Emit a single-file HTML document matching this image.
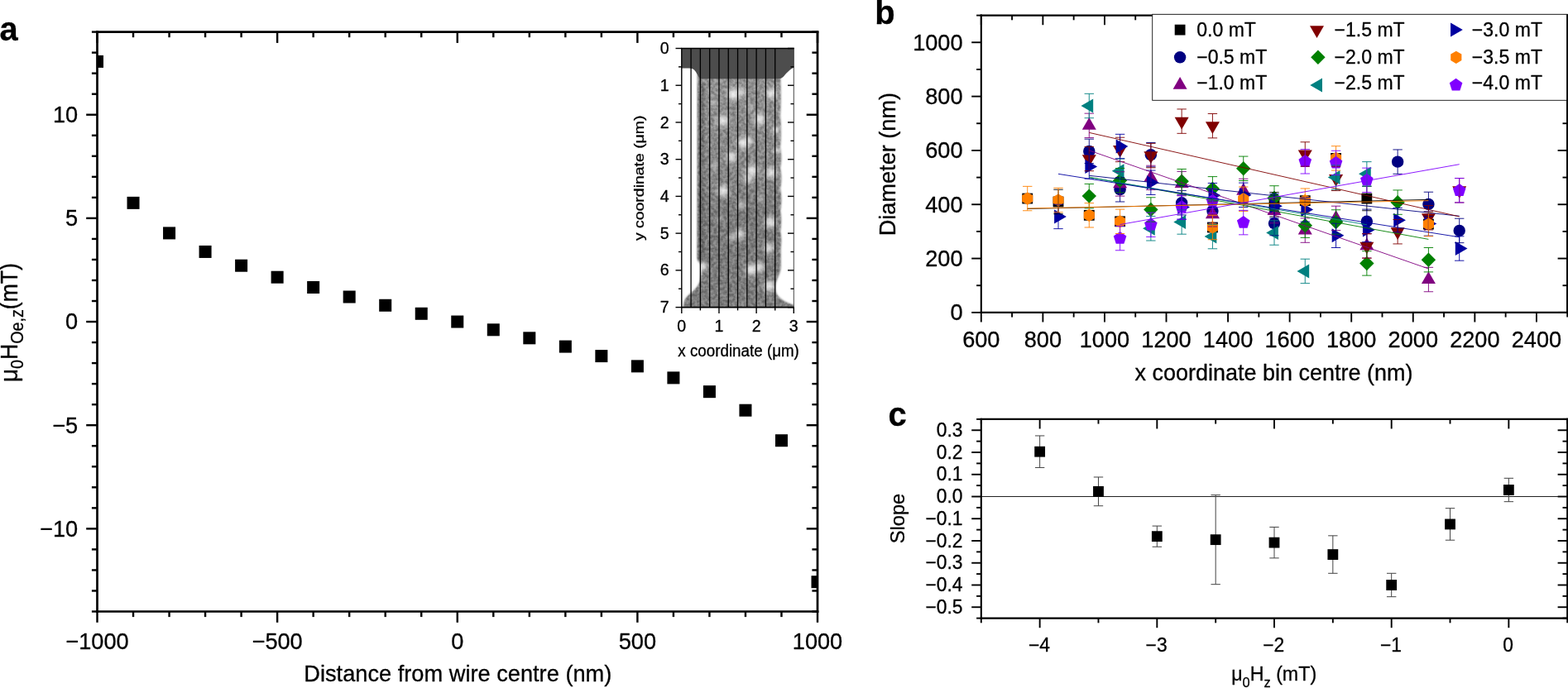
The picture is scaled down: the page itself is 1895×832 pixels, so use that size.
<!DOCTYPE html>
<html lang="en">
<head>
<meta charset="utf-8">
<title>Figure</title>
<style>
html,body{margin:0;padding:0;background:#fff;}
body{width:1895px;height:832px;overflow:hidden;}
svg{display:block;}
svg text{font-family:'Liberation Sans', sans-serif;fill:#000;stroke:#000;stroke-width:0.3px;stroke-linejoin:round;}
</style>
</head>
<body>
<svg width="1895" height="832" viewBox="0 0 1895 832">
<rect width="1895" height="832" fill="#fff"/>
<g id="panel-a">
<clipPath id="clipA"><rect x="117.5" y="38.6" width="870.5" height="700.9"/></clipPath>
<g clip-path="url(#clipA)" fill="#000">
<rect x="110.00" y="66.90" width="15.0" height="15.0"/>
<rect x="153.53" y="237.87" width="15.0" height="15.0"/>
<rect x="197.05" y="274.41" width="15.0" height="15.0"/>
<rect x="240.57" y="296.94" width="15.0" height="15.0"/>
<rect x="284.10" y="313.71" width="15.0" height="15.0"/>
<rect x="327.62" y="327.73" width="15.0" height="15.0"/>
<rect x="371.15" y="340.00" width="15.0" height="15.0"/>
<rect x="414.67" y="351.51" width="15.0" height="15.0"/>
<rect x="458.20" y="361.77" width="15.0" height="15.0"/>
<rect x="501.73" y="371.79" width="15.0" height="15.0"/>
<rect x="545.25" y="381.55" width="15.0" height="15.0"/>
<rect x="588.78" y="391.31" width="15.0" height="15.0"/>
<rect x="632.30" y="401.33" width="15.0" height="15.0"/>
<rect x="675.83" y="411.59" width="15.0" height="15.0"/>
<rect x="719.35" y="423.10" width="15.0" height="15.0"/>
<rect x="762.88" y="435.37" width="15.0" height="15.0"/>
<rect x="806.40" y="449.39" width="15.0" height="15.0"/>
<rect x="849.92" y="466.16" width="15.0" height="15.0"/>
<rect x="893.45" y="488.69" width="15.0" height="15.0"/>
<rect x="936.97" y="525.23" width="15.0" height="15.0"/>
<rect x="980.50" y="696.20" width="15.0" height="15.0"/>
</g>
<line x1="117.50" y1="37.25" x2="117.50" y2="740.85" stroke="#000" stroke-width="2.7" />
<line x1="988.00" y1="37.25" x2="988.00" y2="740.85" stroke="#000" stroke-width="2.7" />
<line x1="116.15" y1="38.60" x2="989.35" y2="38.60" stroke="#000" stroke-width="2.7" />
<line x1="116.15" y1="739.50" x2="989.35" y2="739.50" stroke="#000" stroke-width="2.7" />
<line x1="117.50" y1="739.50" x2="117.50" y2="752.80" stroke="#000" stroke-width="2.4" />
<line x1="117.50" y1="38.60" x2="117.50" y2="51.90" stroke="#000" stroke-width="2.4" />
<line x1="161.03" y1="739.50" x2="161.03" y2="746.10" stroke="#000" stroke-width="2.4" />
<line x1="161.03" y1="38.60" x2="161.03" y2="45.20" stroke="#000" stroke-width="2.4" />
<line x1="204.55" y1="739.50" x2="204.55" y2="746.10" stroke="#000" stroke-width="2.4" />
<line x1="204.55" y1="38.60" x2="204.55" y2="45.20" stroke="#000" stroke-width="2.4" />
<line x1="248.07" y1="739.50" x2="248.07" y2="746.10" stroke="#000" stroke-width="2.4" />
<line x1="248.07" y1="38.60" x2="248.07" y2="45.20" stroke="#000" stroke-width="2.4" />
<line x1="291.60" y1="739.50" x2="291.60" y2="746.10" stroke="#000" stroke-width="2.4" />
<line x1="291.60" y1="38.60" x2="291.60" y2="45.20" stroke="#000" stroke-width="2.4" />
<line x1="335.12" y1="739.50" x2="335.12" y2="752.80" stroke="#000" stroke-width="2.4" />
<line x1="335.12" y1="38.60" x2="335.12" y2="51.90" stroke="#000" stroke-width="2.4" />
<line x1="378.65" y1="739.50" x2="378.65" y2="746.10" stroke="#000" stroke-width="2.4" />
<line x1="378.65" y1="38.60" x2="378.65" y2="45.20" stroke="#000" stroke-width="2.4" />
<line x1="422.17" y1="739.50" x2="422.17" y2="746.10" stroke="#000" stroke-width="2.4" />
<line x1="422.17" y1="38.60" x2="422.17" y2="45.20" stroke="#000" stroke-width="2.4" />
<line x1="465.70" y1="739.50" x2="465.70" y2="746.10" stroke="#000" stroke-width="2.4" />
<line x1="465.70" y1="38.60" x2="465.70" y2="45.20" stroke="#000" stroke-width="2.4" />
<line x1="509.23" y1="739.50" x2="509.23" y2="746.10" stroke="#000" stroke-width="2.4" />
<line x1="509.23" y1="38.60" x2="509.23" y2="45.20" stroke="#000" stroke-width="2.4" />
<line x1="552.75" y1="739.50" x2="552.75" y2="752.80" stroke="#000" stroke-width="2.4" />
<line x1="552.75" y1="38.60" x2="552.75" y2="51.90" stroke="#000" stroke-width="2.4" />
<line x1="596.28" y1="739.50" x2="596.28" y2="746.10" stroke="#000" stroke-width="2.4" />
<line x1="596.28" y1="38.60" x2="596.28" y2="45.20" stroke="#000" stroke-width="2.4" />
<line x1="639.80" y1="739.50" x2="639.80" y2="746.10" stroke="#000" stroke-width="2.4" />
<line x1="639.80" y1="38.60" x2="639.80" y2="45.20" stroke="#000" stroke-width="2.4" />
<line x1="683.33" y1="739.50" x2="683.33" y2="746.10" stroke="#000" stroke-width="2.4" />
<line x1="683.33" y1="38.60" x2="683.33" y2="45.20" stroke="#000" stroke-width="2.4" />
<line x1="726.85" y1="739.50" x2="726.85" y2="746.10" stroke="#000" stroke-width="2.4" />
<line x1="726.85" y1="38.60" x2="726.85" y2="45.20" stroke="#000" stroke-width="2.4" />
<line x1="770.38" y1="739.50" x2="770.38" y2="752.80" stroke="#000" stroke-width="2.4" />
<line x1="770.38" y1="38.60" x2="770.38" y2="51.90" stroke="#000" stroke-width="2.4" />
<line x1="813.90" y1="739.50" x2="813.90" y2="746.10" stroke="#000" stroke-width="2.4" />
<line x1="813.90" y1="38.60" x2="813.90" y2="45.20" stroke="#000" stroke-width="2.4" />
<line x1="857.42" y1="739.50" x2="857.42" y2="746.10" stroke="#000" stroke-width="2.4" />
<line x1="857.42" y1="38.60" x2="857.42" y2="45.20" stroke="#000" stroke-width="2.4" />
<line x1="900.95" y1="739.50" x2="900.95" y2="746.10" stroke="#000" stroke-width="2.4" />
<line x1="900.95" y1="38.60" x2="900.95" y2="45.20" stroke="#000" stroke-width="2.4" />
<line x1="944.47" y1="739.50" x2="944.47" y2="746.10" stroke="#000" stroke-width="2.4" />
<line x1="944.47" y1="38.60" x2="944.47" y2="45.20" stroke="#000" stroke-width="2.4" />
<line x1="988.00" y1="739.50" x2="988.00" y2="752.80" stroke="#000" stroke-width="2.4" />
<line x1="988.00" y1="38.60" x2="988.00" y2="51.90" stroke="#000" stroke-width="2.4" />
<line x1="117.50" y1="739.50" x2="110.90" y2="739.50" stroke="#000" stroke-width="2.4" />
<line x1="988.00" y1="739.50" x2="981.40" y2="739.50" stroke="#000" stroke-width="2.4" />
<line x1="117.50" y1="714.47" x2="110.90" y2="714.47" stroke="#000" stroke-width="2.4" />
<line x1="988.00" y1="714.47" x2="981.40" y2="714.47" stroke="#000" stroke-width="2.4" />
<line x1="117.50" y1="689.44" x2="110.90" y2="689.44" stroke="#000" stroke-width="2.4" />
<line x1="988.00" y1="689.44" x2="981.40" y2="689.44" stroke="#000" stroke-width="2.4" />
<line x1="117.50" y1="664.40" x2="110.90" y2="664.40" stroke="#000" stroke-width="2.4" />
<line x1="988.00" y1="664.40" x2="981.40" y2="664.40" stroke="#000" stroke-width="2.4" />
<line x1="117.50" y1="639.37" x2="104.20" y2="639.37" stroke="#000" stroke-width="2.4" />
<line x1="988.00" y1="639.37" x2="974.70" y2="639.37" stroke="#000" stroke-width="2.4" />
<line x1="117.50" y1="614.34" x2="110.90" y2="614.34" stroke="#000" stroke-width="2.4" />
<line x1="988.00" y1="614.34" x2="981.40" y2="614.34" stroke="#000" stroke-width="2.4" />
<line x1="117.50" y1="589.31" x2="110.90" y2="589.31" stroke="#000" stroke-width="2.4" />
<line x1="988.00" y1="589.31" x2="981.40" y2="589.31" stroke="#000" stroke-width="2.4" />
<line x1="117.50" y1="564.27" x2="110.90" y2="564.27" stroke="#000" stroke-width="2.4" />
<line x1="988.00" y1="564.27" x2="981.40" y2="564.27" stroke="#000" stroke-width="2.4" />
<line x1="117.50" y1="539.24" x2="110.90" y2="539.24" stroke="#000" stroke-width="2.4" />
<line x1="988.00" y1="539.24" x2="981.40" y2="539.24" stroke="#000" stroke-width="2.4" />
<line x1="117.50" y1="514.21" x2="104.20" y2="514.21" stroke="#000" stroke-width="2.4" />
<line x1="988.00" y1="514.21" x2="974.70" y2="514.21" stroke="#000" stroke-width="2.4" />
<line x1="117.50" y1="489.18" x2="110.90" y2="489.18" stroke="#000" stroke-width="2.4" />
<line x1="988.00" y1="489.18" x2="981.40" y2="489.18" stroke="#000" stroke-width="2.4" />
<line x1="117.50" y1="464.15" x2="110.90" y2="464.15" stroke="#000" stroke-width="2.4" />
<line x1="988.00" y1="464.15" x2="981.40" y2="464.15" stroke="#000" stroke-width="2.4" />
<line x1="117.50" y1="439.11" x2="110.90" y2="439.11" stroke="#000" stroke-width="2.4" />
<line x1="988.00" y1="439.11" x2="981.40" y2="439.11" stroke="#000" stroke-width="2.4" />
<line x1="117.50" y1="414.08" x2="110.90" y2="414.08" stroke="#000" stroke-width="2.4" />
<line x1="988.00" y1="414.08" x2="981.40" y2="414.08" stroke="#000" stroke-width="2.4" />
<line x1="117.50" y1="389.05" x2="104.20" y2="389.05" stroke="#000" stroke-width="2.4" />
<line x1="988.00" y1="389.05" x2="974.70" y2="389.05" stroke="#000" stroke-width="2.4" />
<line x1="117.50" y1="364.02" x2="110.90" y2="364.02" stroke="#000" stroke-width="2.4" />
<line x1="988.00" y1="364.02" x2="981.40" y2="364.02" stroke="#000" stroke-width="2.4" />
<line x1="117.50" y1="338.99" x2="110.90" y2="338.99" stroke="#000" stroke-width="2.4" />
<line x1="988.00" y1="338.99" x2="981.40" y2="338.99" stroke="#000" stroke-width="2.4" />
<line x1="117.50" y1="313.95" x2="110.90" y2="313.95" stroke="#000" stroke-width="2.4" />
<line x1="988.00" y1="313.95" x2="981.40" y2="313.95" stroke="#000" stroke-width="2.4" />
<line x1="117.50" y1="288.92" x2="110.90" y2="288.92" stroke="#000" stroke-width="2.4" />
<line x1="988.00" y1="288.92" x2="981.40" y2="288.92" stroke="#000" stroke-width="2.4" />
<line x1="117.50" y1="263.89" x2="104.20" y2="263.89" stroke="#000" stroke-width="2.4" />
<line x1="988.00" y1="263.89" x2="974.70" y2="263.89" stroke="#000" stroke-width="2.4" />
<line x1="117.50" y1="238.86" x2="110.90" y2="238.86" stroke="#000" stroke-width="2.4" />
<line x1="988.00" y1="238.86" x2="981.40" y2="238.86" stroke="#000" stroke-width="2.4" />
<line x1="117.50" y1="213.83" x2="110.90" y2="213.83" stroke="#000" stroke-width="2.4" />
<line x1="988.00" y1="213.83" x2="981.40" y2="213.83" stroke="#000" stroke-width="2.4" />
<line x1="117.50" y1="188.79" x2="110.90" y2="188.79" stroke="#000" stroke-width="2.4" />
<line x1="988.00" y1="188.79" x2="981.40" y2="188.79" stroke="#000" stroke-width="2.4" />
<line x1="117.50" y1="163.76" x2="110.90" y2="163.76" stroke="#000" stroke-width="2.4" />
<line x1="988.00" y1="163.76" x2="981.40" y2="163.76" stroke="#000" stroke-width="2.4" />
<line x1="117.50" y1="138.73" x2="104.20" y2="138.73" stroke="#000" stroke-width="2.4" />
<line x1="988.00" y1="138.73" x2="974.70" y2="138.73" stroke="#000" stroke-width="2.4" />
<line x1="117.50" y1="113.70" x2="110.90" y2="113.70" stroke="#000" stroke-width="2.4" />
<line x1="988.00" y1="113.70" x2="981.40" y2="113.70" stroke="#000" stroke-width="2.4" />
<line x1="117.50" y1="88.66" x2="110.90" y2="88.66" stroke="#000" stroke-width="2.4" />
<line x1="988.00" y1="88.66" x2="981.40" y2="88.66" stroke="#000" stroke-width="2.4" />
<line x1="117.50" y1="63.63" x2="110.90" y2="63.63" stroke="#000" stroke-width="2.4" />
<line x1="988.00" y1="63.63" x2="981.40" y2="63.63" stroke="#000" stroke-width="2.4" />
<line x1="117.50" y1="38.60" x2="110.90" y2="38.60" stroke="#000" stroke-width="2.4" />
<line x1="988.00" y1="38.60" x2="981.40" y2="38.60" stroke="#000" stroke-width="2.4" />
<text transform="translate(117.50 784.60) scale(0.9850 1)" font-size="27.60" text-anchor="middle" >−1000</text>
<text transform="translate(335.12 784.60) scale(0.9850 1)" font-size="27.60" text-anchor="middle" >−500</text>
<text transform="translate(552.75 784.60) scale(0.9850 1)" font-size="27.60" text-anchor="middle" >0</text>
<text transform="translate(770.38 784.60) scale(0.9850 1)" font-size="27.60" text-anchor="middle" >500</text>
<text transform="translate(988.00 784.60) scale(0.9850 1)" font-size="27.60" text-anchor="middle" >1000</text>
<text transform="translate(94.20 648.67) scale(0.9850 1)" font-size="27.60" text-anchor="end" >−10</text>
<text transform="translate(94.20 523.51) scale(0.9850 1)" font-size="27.60" text-anchor="end" >−5</text>
<text transform="translate(94.20 398.35) scale(0.9850 1)" font-size="27.60" text-anchor="end" >0</text>
<text transform="translate(94.20 273.19) scale(0.9850 1)" font-size="27.60" text-anchor="end" >5</text>
<text transform="translate(94.20 148.03) scale(0.9850 1)" font-size="27.60" text-anchor="end" >10</text>
<text transform="translate(553.30 823.80) scale(0.9850 1)" font-size="27.60" text-anchor="middle" textLength="377.66" lengthAdjust="spacingAndGlyphs" >Distance from wire centre (nm)</text>
<text transform="translate(20.6 462.3) rotate(-90) scale(0.927 1)" font-size="28.7" text-anchor="start"><tspan textLength="17.6" lengthAdjust="spacingAndGlyphs">μ</tspan><tspan font-size="21.3" dy="7.5">0</tspan><tspan dy="-7.5">H</tspan><tspan font-size="21.3" dy="7.5">Oe,z</tspan><tspan dy="-7.5">(mT)</tspan></text>
<text transform="translate(-0.50 49.20) scale(0.9850 1)" font-size="40.50" text-anchor="start" font-weight="bold" >a</text>
</g>
<g id="inset">
<defs>
<filter id="noise" x="0" y="0" width="100%" height="100%" color-interpolation-filters="sRGB">
<feTurbulence type="fractalNoise" baseFrequency="0.27" numOctaves="2" seed="7" result="n"/>
<feColorMatrix in="n" type="matrix" values="2.2 0 0 0 -0.6  2.2 0 0 0 -0.6  2.2 0 0 0 -0.6  0 0 0 0 1"/>
<feComposite operator="in" in2="SourceGraphic"/>
</filter>
<filter id="blur3" x="-100%" y="-100%" width="300%" height="300%"><feGaussianBlur stdDeviation="3.0"/></filter>
<filter id="blur1" x="-10%" y="-10%" width="120%" height="120%"><feGaussianBlur stdDeviation="1.1"/></filter>
<radialGradient id="sp"><stop offset="0" stop-color="#fff" stop-opacity="0.9"/><stop offset="0.3" stop-color="#fff" stop-opacity="0.68"/><stop offset="0.6" stop-color="#fff" stop-opacity="0.28"/><stop offset="1" stop-color="#fff" stop-opacity="0"/></radialGradient>
<linearGradient id="wg" x1="0" y1="0" x2="0" y2="1">
<stop offset="0" stop-color="#969696"/><stop offset="0.45" stop-color="#8a8a8a"/><stop offset="0.6" stop-color="#7b7b7b"/><stop offset="1" stop-color="#7e7e7e"/>
</linearGradient>
</defs>
<clipPath id="clipI"><rect x="823.8" y="58.5" width="135.5" height="313.1"/></clipPath>
<g clip-path="url(#clipI)">
<path d="M 842.7 88 L 842.7 200 L 842.5 312 C 843 317 848 319 848 324 C 848 330 847 336 845.5 341 C 844 346 840 350 836 353.5 C 832 357 828.5 360 827 364 L 825.5 373 L 961 373 L 961 369.5 C 956 368 950 366 946 363 C 942 360 938.5 357 937.5 352 C 936.8 347 937.5 341 939.5 337 C 941.5 332 943.5 328 943.7 322 L 943.5 300 C 944.5 295 944.5 285 943 280 C 944.5 270 944.5 262 943 255 C 945 245 944.5 235 943 228 C 945 220 944.5 210 943 203 C 945 195 944.5 185 943 178 C 944.5 165 944 150 943 140 C 944 125 944 110 943 88 Z" fill="url(#wg)" filter="url(#blur1)"/>
<rect x="843.5" y="100" width="8" height="215" fill="#484848" opacity="0.42" filter="url(#blur1)"/>
<path d="M 842.7 88 L 842.7 200 L 842.5 312 C 843 317 848 319 848 324 C 848 330 847 336 845.5 341 C 844 346 840 350 836 353.5 C 832 357 828.5 360 827 364 L 825.5 373 L 961 373 L 961 369.5 C 956 368 950 366 946 363 C 942 360 938.5 357 937.5 352 C 936.8 347 937.5 341 939.5 337 C 941.5 332 943.5 328 943.7 322 L 943.5 300 C 944.5 295 944.5 285 943 280 C 944.5 270 944.5 262 943 255 C 945 245 944.5 235 943 228 C 945 220 944.5 210 943 203 C 945 195 944.5 185 943 178 C 944.5 165 944 150 943 140 C 944 125 944 110 943 88 Z" fill="#fff" opacity="0.18" filter="url(#noise)"/>
<circle cx="886" cy="114" r="12.0" fill="url(#sp)" opacity="0.95"/>
<circle cx="895" cy="111" r="10.0" fill="url(#sp)" opacity="0.60"/>
<circle cx="932" cy="113" r="11.0" fill="url(#sp)" opacity="0.85"/>
<circle cx="874" cy="146" r="12.0" fill="url(#sp)" opacity="0.85"/>
<circle cx="918" cy="144" r="12.0" fill="url(#sp)" opacity="0.85"/>
<circle cx="898" cy="173" r="12.0" fill="url(#sp)" opacity="0.90"/>
<circle cx="906" cy="170" r="8.0" fill="url(#sp)" opacity="0.60"/>
<circle cx="884" cy="190" r="11.0" fill="url(#sp)" opacity="0.85"/>
<circle cx="909" cy="206" r="12.0" fill="url(#sp)" opacity="0.90"/>
<circle cx="904" cy="216" r="10.0" fill="url(#sp)" opacity="0.70"/>
<circle cx="932" cy="209" r="11.0" fill="url(#sp)" opacity="0.85"/>
<circle cx="874" cy="231" r="12.0" fill="url(#sp)" opacity="0.90"/>
<circle cx="938" cy="157" r="8.0" fill="url(#sp)" opacity="0.70"/>
<circle cx="939" cy="182" r="8.0" fill="url(#sp)" opacity="0.60"/>
<circle cx="896" cy="248" r="9.0" fill="url(#sp)" opacity="0.50"/>
<circle cx="931" cy="269" r="12.0" fill="url(#sp)" opacity="0.90"/>
<circle cx="894" cy="283" r="11.0" fill="url(#sp)" opacity="0.75"/>
<circle cx="884" cy="288" r="8.0" fill="url(#sp)" opacity="0.45"/>
<circle cx="929" cy="300" r="11.0" fill="url(#sp)" opacity="0.80"/>
<circle cx="908" cy="326" r="12.0" fill="url(#sp)" opacity="0.95"/>
<circle cx="918" cy="323" r="10.0" fill="url(#sp)" opacity="0.80"/>
<circle cx="930" cy="346" r="12.0" fill="url(#sp)" opacity="0.90"/>
<circle cx="862" cy="125" r="8.0" fill="url(#sp)" opacity="0.35"/>
<circle cx="864" cy="200" r="8.0" fill="url(#sp)" opacity="0.35"/>
<circle cx="920" cy="240" r="8.0" fill="url(#sp)" opacity="0.35"/>
<circle cx="870" cy="265" r="8.0" fill="url(#sp)" opacity="0.30"/>
<circle cx="905" cy="130" r="8.0" fill="url(#sp)" opacity="0.30"/>
<circle cx="850" cy="322" r="9.0" fill="url(#sp)" opacity="0.80"/>
<path d="M 823 58 L 960 58 L 960 81.5 C 955 83 951 88 947 92.5 C 945 94.5 943 95.3 940 95.3 L 850 95.3 C 846 96 845 94.7 843 90.5 C 840 84.5 838 82.5 833 82.4 L 823 82.4 Z" fill="#4d4d4d"/>
</g>
<line x1="835.09" y1="58.50" x2="835.09" y2="371.60" stroke="#000" stroke-width="1.3" />
<line x1="846.38" y1="58.50" x2="846.38" y2="371.60" stroke="#000" stroke-width="1.3" />
<line x1="857.67" y1="58.50" x2="857.67" y2="371.60" stroke="#000" stroke-width="1.3" />
<line x1="868.97" y1="58.50" x2="868.97" y2="371.60" stroke="#000" stroke-width="1.3" />
<line x1="880.26" y1="58.50" x2="880.26" y2="371.60" stroke="#000" stroke-width="1.3" />
<line x1="891.55" y1="58.50" x2="891.55" y2="371.60" stroke="#000" stroke-width="1.3" />
<line x1="902.84" y1="58.50" x2="902.84" y2="371.60" stroke="#000" stroke-width="1.3" />
<line x1="914.13" y1="58.50" x2="914.13" y2="371.60" stroke="#000" stroke-width="1.3" />
<line x1="925.42" y1="58.50" x2="925.42" y2="371.60" stroke="#000" stroke-width="1.3" />
<line x1="936.72" y1="58.50" x2="936.72" y2="371.60" stroke="#000" stroke-width="1.3" />
<line x1="823.80" y1="58.50" x2="823.80" y2="371.60" stroke="#000" stroke-width="1.4" />
<line x1="823.10" y1="58.50" x2="960.00" y2="58.50" stroke="#000" stroke-width="1.6" />
<line x1="823.10" y1="371.60" x2="960.00" y2="371.60" stroke="#000" stroke-width="1.6" />
<line x1="959.30" y1="58.50" x2="959.30" y2="371.60" stroke="#333" stroke-width="0.9" />
<line x1="823.80" y1="58.50" x2="816.50" y2="58.50" stroke="#000" stroke-width="1.4" />
<line x1="959.30" y1="58.50" x2="952.00" y2="58.50" stroke="#000" stroke-width="1.4" />
<line x1="823.80" y1="80.86" x2="820.00" y2="80.86" stroke="#000" stroke-width="1.4" />
<line x1="959.30" y1="80.86" x2="955.50" y2="80.86" stroke="#000" stroke-width="1.4" />
<line x1="823.80" y1="103.23" x2="816.50" y2="103.23" stroke="#000" stroke-width="1.4" />
<line x1="959.30" y1="103.23" x2="952.00" y2="103.23" stroke="#000" stroke-width="1.4" />
<line x1="823.80" y1="125.59" x2="820.00" y2="125.59" stroke="#000" stroke-width="1.4" />
<line x1="959.30" y1="125.59" x2="955.50" y2="125.59" stroke="#000" stroke-width="1.4" />
<line x1="823.80" y1="147.96" x2="816.50" y2="147.96" stroke="#000" stroke-width="1.4" />
<line x1="959.30" y1="147.96" x2="952.00" y2="147.96" stroke="#000" stroke-width="1.4" />
<line x1="823.80" y1="170.32" x2="820.00" y2="170.32" stroke="#000" stroke-width="1.4" />
<line x1="959.30" y1="170.32" x2="955.50" y2="170.32" stroke="#000" stroke-width="1.4" />
<line x1="823.80" y1="192.69" x2="816.50" y2="192.69" stroke="#000" stroke-width="1.4" />
<line x1="959.30" y1="192.69" x2="952.00" y2="192.69" stroke="#000" stroke-width="1.4" />
<line x1="823.80" y1="215.05" x2="820.00" y2="215.05" stroke="#000" stroke-width="1.4" />
<line x1="959.30" y1="215.05" x2="955.50" y2="215.05" stroke="#000" stroke-width="1.4" />
<line x1="823.80" y1="237.41" x2="816.50" y2="237.41" stroke="#000" stroke-width="1.4" />
<line x1="959.30" y1="237.41" x2="952.00" y2="237.41" stroke="#000" stroke-width="1.4" />
<line x1="823.80" y1="259.78" x2="820.00" y2="259.78" stroke="#000" stroke-width="1.4" />
<line x1="959.30" y1="259.78" x2="955.50" y2="259.78" stroke="#000" stroke-width="1.4" />
<line x1="823.80" y1="282.14" x2="816.50" y2="282.14" stroke="#000" stroke-width="1.4" />
<line x1="959.30" y1="282.14" x2="952.00" y2="282.14" stroke="#000" stroke-width="1.4" />
<line x1="823.80" y1="304.51" x2="820.00" y2="304.51" stroke="#000" stroke-width="1.4" />
<line x1="959.30" y1="304.51" x2="955.50" y2="304.51" stroke="#000" stroke-width="1.4" />
<line x1="823.80" y1="326.87" x2="816.50" y2="326.87" stroke="#000" stroke-width="1.4" />
<line x1="959.30" y1="326.87" x2="952.00" y2="326.87" stroke="#000" stroke-width="1.4" />
<line x1="823.80" y1="349.24" x2="820.00" y2="349.24" stroke="#000" stroke-width="1.4" />
<line x1="959.30" y1="349.24" x2="955.50" y2="349.24" stroke="#000" stroke-width="1.4" />
<line x1="823.80" y1="371.60" x2="816.50" y2="371.60" stroke="#000" stroke-width="1.4" />
<line x1="959.30" y1="371.60" x2="952.00" y2="371.60" stroke="#000" stroke-width="1.4" />
<line x1="823.80" y1="371.60" x2="823.80" y2="378.90" stroke="#000" stroke-width="1.4" />
<line x1="846.38" y1="371.60" x2="846.38" y2="375.40" stroke="#000" stroke-width="1.4" />
<line x1="868.97" y1="371.60" x2="868.97" y2="378.90" stroke="#000" stroke-width="1.4" />
<line x1="891.55" y1="371.60" x2="891.55" y2="375.40" stroke="#000" stroke-width="1.4" />
<line x1="914.13" y1="371.60" x2="914.13" y2="378.90" stroke="#000" stroke-width="1.4" />
<line x1="936.72" y1="371.60" x2="936.72" y2="375.40" stroke="#000" stroke-width="1.4" />
<line x1="959.30" y1="371.60" x2="959.30" y2="378.90" stroke="#000" stroke-width="1.4" />
<text transform="translate(808.60 65.10) scale(0.9850 1)" font-size="19.90" text-anchor="end" >0</text>
<text transform="translate(808.60 109.83) scale(0.9850 1)" font-size="19.90" text-anchor="end" >1</text>
<text transform="translate(808.60 154.56) scale(0.9850 1)" font-size="19.90" text-anchor="end" >2</text>
<text transform="translate(808.60 199.29) scale(0.9850 1)" font-size="19.90" text-anchor="end" >3</text>
<text transform="translate(808.60 244.01) scale(0.9850 1)" font-size="19.90" text-anchor="end" >4</text>
<text transform="translate(808.60 288.74) scale(0.9850 1)" font-size="19.90" text-anchor="end" >5</text>
<text transform="translate(808.60 333.47) scale(0.9850 1)" font-size="19.90" text-anchor="end" >6</text>
<text transform="translate(808.60 378.20) scale(0.9850 1)" font-size="19.90" text-anchor="end" >7</text>
<text transform="translate(823.80 401.20) scale(0.9850 1)" font-size="19.90" text-anchor="middle" >0</text>
<text transform="translate(868.97 401.20) scale(0.9850 1)" font-size="19.90" text-anchor="middle" >1</text>
<text transform="translate(914.13 401.20) scale(0.9850 1)" font-size="19.90" text-anchor="middle" >2</text>
<text transform="translate(959.30 401.20) scale(0.9850 1)" font-size="19.90" text-anchor="middle" >3</text>
<text transform="translate(892.60 430.70) scale(0.9850 1)" font-size="19.90" text-anchor="middle" textLength="148.73" lengthAdjust="spacingAndGlyphs" >x coordinate (μm)</text>
<text transform="translate(778.20 215.30) rotate(-90) scale(0.9850 1)" font-size="17.00" text-anchor="middle" textLength="153.81" lengthAdjust="spacingAndGlyphs" >y coordinate (μm)</text>
</g>
<g id="panel-b">
<rect x="1235.33" y="233.66" width="12.80" height="12.80" fill="#000000"/>
<rect x="1272.61" y="237.58" width="12.80" height="12.80" fill="#000000"/>
<rect x="1309.89" y="253.91" width="12.80" height="12.80" fill="#000000"/>
<rect x="1347.18" y="261.42" width="12.80" height="12.80" fill="#000000"/>
<rect x="1459.03" y="268.61" width="12.80" height="12.80" fill="#000000"/>
<rect x="1533.60" y="240.85" width="12.80" height="12.80" fill="#000000"/>
<rect x="1570.88" y="236.27" width="12.80" height="12.80" fill="#000000"/>
<rect x="1608.17" y="184.99" width="12.80" height="12.80" fill="#000000"/>
<rect x="1645.45" y="233.66" width="12.80" height="12.80" fill="#000000"/>
<rect x="1720.02" y="264.69" width="12.80" height="12.80" fill="#000000"/>
<circle cx="1316.29" cy="182.90" r="7.20" fill="#000080"/>
<circle cx="1353.58" cy="229.28" r="7.20" fill="#000080"/>
<circle cx="1390.86" cy="187.14" r="7.20" fill="#000080"/>
<circle cx="1428.15" cy="245.29" r="7.20" fill="#000080"/>
<circle cx="1465.43" cy="255.08" r="7.20" fill="#000080"/>
<circle cx="1540.00" cy="270.11" r="7.20" fill="#000080"/>
<circle cx="1651.85" cy="267.82" r="7.20" fill="#000080"/>
<circle cx="1689.14" cy="195.64" r="7.20" fill="#000080"/>
<circle cx="1726.42" cy="246.92" r="7.20" fill="#000080"/>
<circle cx="1763.71" cy="278.93" r="7.20" fill="#000080"/>
<polygon points="1316.29,142.05 1307.79,156.77 1324.79,156.77" fill="#800080"/>
<polygon points="1353.58,212.61 1345.08,227.33 1362.08,227.33" fill="#800080"/>
<polygon points="1390.86,205.09 1382.36,219.82 1399.36,219.82" fill="#800080"/>
<polygon points="1428.15,212.28 1419.65,227.00 1436.65,227.00" fill="#800080"/>
<polygon points="1465.43,249.52 1456.93,264.24 1473.93,264.24" fill="#800080"/>
<polygon points="1502.72,221.10 1494.22,235.82 1511.22,235.82" fill="#800080"/>
<polygon points="1540.00,245.27 1531.50,259.99 1548.50,259.99" fill="#800080"/>
<polygon points="1577.28,268.79 1568.78,283.51 1585.78,283.51" fill="#800080"/>
<polygon points="1614.57,254.09 1606.07,268.81 1623.07,268.81" fill="#800080"/>
<polygon points="1651.85,287.41 1643.35,302.13 1660.35,302.13" fill="#800080"/>
<polygon points="1726.42,328.24 1717.92,342.96 1734.92,342.96" fill="#800080"/>
<polygon points="1316.29,201.86 1307.79,187.14 1324.79,187.14" fill="#800000"/>
<polygon points="1353.58,190.75 1345.08,176.03 1362.08,176.03" fill="#800000"/>
<polygon points="1390.86,197.94 1382.36,183.22 1399.36,183.22" fill="#800000"/>
<polygon points="1428.15,156.46 1419.65,141.73 1436.65,141.73" fill="#800000"/>
<polygon points="1465.43,162.01 1456.93,147.29 1473.93,147.29" fill="#800000"/>
<polygon points="1577.28,196.31 1568.78,181.58 1585.78,181.58" fill="#800000"/>
<polygon points="1614.57,225.70 1606.07,210.98 1623.07,210.98" fill="#800000"/>
<polygon points="1651.85,307.36 1643.35,292.64 1660.35,292.64" fill="#800000"/>
<polygon points="1689.14,290.05 1680.64,275.33 1697.64,275.33" fill="#800000"/>
<polygon points="1726.42,273.07 1717.92,258.34 1734.92,258.34" fill="#800000"/>
<polygon points="1763.71,240.08 1755.21,225.35 1772.21,225.35" fill="#800000"/>
<polygon points="1316.29,228.42 1324.99,237.12 1316.29,245.82 1307.59,237.12" fill="#008000"/>
<polygon points="1353.58,209.47 1362.28,218.17 1353.58,226.87 1344.88,218.17" fill="#008000"/>
<polygon points="1390.86,244.75 1399.56,253.45 1390.86,262.15 1382.16,253.45" fill="#008000"/>
<polygon points="1428.15,210.45 1436.85,219.15 1428.15,227.85 1419.45,219.15" fill="#008000"/>
<polygon points="1465.43,219.60 1474.13,228.30 1465.43,237.00 1456.73,228.30" fill="#008000"/>
<polygon points="1502.72,195.10 1511.42,203.80 1502.72,212.50 1494.02,203.80" fill="#008000"/>
<polygon points="1540.00,230.71 1548.70,239.41 1540.00,248.11 1531.30,239.41" fill="#008000"/>
<polygon points="1577.28,264.02 1585.98,272.72 1577.28,281.42 1568.58,272.72" fill="#008000"/>
<polygon points="1614.57,259.78 1623.27,268.48 1614.57,277.18 1605.87,268.48" fill="#008000"/>
<polygon points="1651.85,309.75 1660.55,318.45 1651.85,327.15 1643.15,318.45" fill="#008000"/>
<polygon points="1689.14,235.93 1697.84,244.63 1689.14,253.33 1680.44,244.63" fill="#008000"/>
<polygon points="1726.42,305.51 1735.12,314.21 1726.42,322.91 1717.72,314.21" fill="#008000"/>
<polygon points="1306.48,128.02 1321.20,119.52 1321.20,136.52" fill="#008080"/>
<polygon points="1343.76,206.74 1358.49,198.24 1358.49,215.24" fill="#008080"/>
<polygon points="1381.05,276.32 1395.77,267.82 1395.77,284.82" fill="#008080"/>
<polygon points="1418.33,268.48 1433.05,259.98 1433.05,276.98" fill="#008080"/>
<polygon points="1455.62,286.12 1470.34,277.62 1470.34,294.62" fill="#008080"/>
<polygon points="1530.19,281.54 1544.91,273.04 1544.91,290.04" fill="#008080"/>
<polygon points="1567.47,327.92 1582.19,319.42 1582.19,336.42" fill="#008080"/>
<polygon points="1604.75,214.58 1619.48,206.08 1619.48,223.08" fill="#008080"/>
<polygon points="1642.04,210.34 1656.76,201.84 1656.76,218.84" fill="#008080"/>
<polygon points="1288.83,261.94 1274.10,253.44 1274.10,270.44" fill="#0000a0"/>
<polygon points="1326.11,201.52 1311.39,193.02 1311.39,210.02" fill="#0000a0"/>
<polygon points="1363.39,177.02 1348.67,168.52 1348.67,185.52" fill="#0000a0"/>
<polygon points="1400.68,220.79 1385.96,212.29 1385.96,229.29" fill="#0000a0"/>
<polygon points="1437.96,250.51 1423.24,242.01 1423.24,259.01" fill="#0000a0"/>
<polygon points="1475.25,236.14 1460.52,227.64 1460.52,244.64" fill="#0000a0"/>
<polygon points="1512.53,235.81 1497.81,227.31 1497.81,244.31" fill="#0000a0"/>
<polygon points="1549.81,249.21 1535.09,240.71 1535.09,257.71" fill="#0000a0"/>
<polygon points="1587.10,253.45 1572.38,244.95 1572.38,261.95" fill="#0000a0"/>
<polygon points="1624.38,284.81 1609.66,276.31 1609.66,293.31" fill="#0000a0"/>
<polygon points="1661.67,277.95 1646.95,269.45 1646.95,286.45" fill="#0000a0"/>
<polygon points="1698.95,266.19 1684.23,257.69 1684.23,274.69" fill="#0000a0"/>
<polygon points="1736.24,270.44 1721.51,261.94 1721.51,278.94" fill="#0000a0"/>
<polygon points="1773.52,300.49 1758.80,291.99 1758.80,308.99" fill="#0000a0"/>
<polygon points="1241.73,232.46 1248.31,236.26 1248.31,243.86 1241.73,247.66 1235.14,243.86 1235.14,236.26" fill="#ff8000"/>
<polygon points="1279.01,234.42 1285.59,238.22 1285.59,245.82 1279.01,249.62 1272.43,245.82 1272.43,238.22" fill="#ff8000"/>
<polygon points="1316.29,252.71 1322.88,256.51 1322.88,264.11 1316.29,267.91 1309.71,264.11 1309.71,256.51" fill="#ff8000"/>
<polygon points="1353.58,260.22 1360.16,264.02 1360.16,271.62 1353.58,275.42 1347.00,271.62 1347.00,264.02" fill="#ff8000"/>
<polygon points="1465.43,267.41 1472.01,271.21 1472.01,278.81 1465.43,282.61 1458.85,278.81 1458.85,271.21" fill="#ff8000"/>
<polygon points="1502.72,233.11 1509.30,236.91 1509.30,244.51 1502.72,248.31 1496.13,244.51 1496.13,236.91" fill="#ff8000"/>
<polygon points="1577.28,235.07 1583.87,238.87 1583.87,246.47 1577.28,250.27 1570.70,246.47 1570.70,238.87" fill="#ff8000"/>
<polygon points="1614.57,183.79 1621.15,187.59 1621.15,195.19 1614.57,198.99 1607.99,195.19 1607.99,187.59" fill="#ff8000"/>
<polygon points="1726.42,263.49 1733.00,267.29 1733.00,274.89 1726.42,278.69 1719.84,274.89 1719.84,267.29" fill="#ff8000"/>
<polygon points="1353.58,279.88 1361.38,285.54 1358.40,294.71 1348.76,294.71 1345.78,285.54" fill="#8000ff"/>
<polygon points="1390.86,263.54 1398.66,269.21 1395.68,278.38 1386.04,278.38 1383.06,269.21" fill="#8000ff"/>
<polygon points="1428.15,242.31 1435.95,247.98 1432.97,257.15 1423.33,257.15 1420.35,247.98" fill="#8000ff"/>
<polygon points="1465.43,234.80 1473.23,240.47 1470.25,249.63 1460.61,249.63 1457.63,240.47" fill="#8000ff"/>
<polygon points="1502.72,260.93 1510.51,266.60 1507.54,275.76 1497.90,275.76 1494.92,266.60" fill="#8000ff"/>
<polygon points="1577.28,187.11 1585.08,192.78 1582.10,201.94 1572.46,201.94 1569.49,192.78" fill="#8000ff"/>
<polygon points="1614.57,188.74 1622.37,194.41 1619.39,203.58 1609.75,203.58 1606.77,194.41" fill="#8000ff"/>
<polygon points="1651.85,209.65 1659.65,215.31 1656.67,224.48 1647.03,224.48 1644.05,215.31" fill="#8000ff"/>
<polygon points="1763.71,222.06 1771.50,227.73 1768.53,236.89 1758.89,236.89 1755.91,227.73" fill="#8000ff"/>
<path d="M1279.01 229.28V258.68M1273.31 229.28H1284.71M1273.31 258.68H1284.71M1540.00 232.55V261.94M1534.30 232.55H1545.70M1534.30 261.94H1545.70M1651.85 225.36V254.76M1646.15 225.36H1657.55M1646.15 254.76H1657.55" stroke="#000000" stroke-width="0.9" fill="none"/>
<path d="M1316.29 168.20V197.60M1310.59 168.20H1321.99M1310.59 197.60H1321.99M1353.58 214.58V243.98M1347.88 214.58H1359.28M1347.88 243.98H1359.28M1390.86 172.45V201.84M1385.16 172.45H1396.56M1385.16 201.84H1396.56M1428.15 230.59V259.98M1422.45 230.59H1433.85M1422.45 259.98H1433.85M1465.43 240.39V269.78M1459.73 240.39H1471.13M1459.73 269.78H1471.13M1540.00 255.41V284.81M1534.30 255.41H1545.70M1534.30 284.81H1545.70M1651.85 253.12V282.52M1646.15 253.12H1657.55M1646.15 282.52H1657.55M1689.14 180.94V210.34M1683.44 180.94H1694.84M1683.44 210.34H1694.84M1726.42 232.22V261.62M1720.72 232.22H1732.12M1720.72 261.62H1732.12M1763.71 264.23V293.63M1758.01 264.23H1769.41M1758.01 293.63H1769.41" stroke="#000080" stroke-width="0.9" fill="none"/>
<path d="M1316.29 137.17V166.57M1310.59 137.17H1321.99M1310.59 166.57H1321.99M1353.58 207.72V237.12M1347.88 207.72H1359.28M1347.88 237.12H1359.28M1390.86 200.21V229.61M1385.16 200.21H1396.56M1385.16 229.61H1396.56M1428.15 207.40V236.79M1422.45 207.40H1433.85M1422.45 236.79H1433.85M1465.43 244.63V274.03M1459.73 244.63H1471.13M1459.73 274.03H1471.13M1502.72 216.22V245.61M1497.02 216.22H1508.42M1497.02 245.61H1508.42M1540.00 240.39V269.78M1534.30 240.39H1545.70M1534.30 269.78H1545.70M1577.28 263.90V293.30M1571.58 263.90H1582.98M1571.58 293.30H1582.98M1614.57 249.21V278.60M1608.87 249.21H1620.27M1608.87 278.60H1620.27M1651.85 282.52V311.92M1646.15 282.52H1657.55M1646.15 311.92H1657.55M1726.42 323.35V352.75M1720.72 323.35H1732.12M1720.72 352.75H1732.12" stroke="#800080" stroke-width="0.9" fill="none"/>
<path d="M1316.29 177.35V206.74M1310.59 177.35H1321.99M1310.59 206.74H1321.99M1353.58 166.24V195.64M1347.88 166.24H1359.28M1347.88 195.64H1359.28M1390.86 173.43V202.82M1385.16 173.43H1396.56M1385.16 202.82H1396.56M1428.15 131.94V161.34M1422.45 131.94H1433.85M1422.45 161.34H1433.85M1465.43 137.50V166.89M1459.73 137.50H1471.13M1459.73 166.89H1471.13M1577.28 171.79V201.19M1571.58 171.79H1582.98M1571.58 201.19H1582.98M1614.57 201.19V230.59M1608.87 201.19H1620.27M1608.87 230.59H1620.27M1651.85 282.85V312.25M1646.15 282.85H1657.55M1646.15 312.25H1657.55M1689.14 265.54V294.93M1683.44 265.54H1694.84M1683.44 294.93H1694.84M1726.42 248.55V277.95M1720.72 248.55H1732.12M1720.72 277.95H1732.12M1763.71 215.56V244.96M1758.01 215.56H1769.41M1758.01 244.96H1769.41" stroke="#800000" stroke-width="0.9" fill="none"/>
<path d="M1316.29 222.42V251.82M1310.59 222.42H1321.99M1310.59 251.82H1321.99M1353.58 203.48V232.87M1347.88 203.48H1359.28M1347.88 232.87H1359.28M1390.86 238.75V268.15M1385.16 238.75H1396.56M1385.16 268.15H1396.56M1428.15 204.46V233.85M1422.45 204.46H1433.85M1422.45 233.85H1433.85M1465.43 213.60V243.00M1459.73 213.60H1471.13M1459.73 243.00H1471.13M1502.72 189.10V218.50M1497.02 189.10H1508.42M1497.02 218.50H1508.42M1540.00 224.71V254.10M1534.30 224.71H1545.70M1534.30 254.10H1545.70M1577.28 258.02V287.42M1571.58 258.02H1582.98M1571.58 287.42H1582.98M1614.57 253.78V283.18M1608.87 253.78H1620.27M1608.87 283.18H1620.27M1651.85 303.75V333.15M1646.15 303.75H1657.55M1646.15 333.15H1657.55M1689.14 229.93V259.33M1683.44 229.93H1694.84M1683.44 259.33H1694.84M1726.42 299.51V328.90M1720.72 299.51H1732.12M1720.72 328.90H1732.12" stroke="#008000" stroke-width="0.9" fill="none"/>
<path d="M1316.29 113.32V142.72M1310.59 113.32H1321.99M1310.59 142.72H1321.99M1353.58 192.04V221.44M1347.88 192.04H1359.28M1347.88 221.44H1359.28M1390.86 261.62V291.01M1385.16 261.62H1396.56M1385.16 291.01H1396.56M1428.15 253.78V283.18M1422.45 253.78H1433.85M1422.45 283.18H1433.85M1465.43 271.42V300.81M1459.73 271.42H1471.13M1459.73 300.81H1471.13M1540.00 266.84V296.24M1534.30 266.84H1545.70M1534.30 296.24H1545.70M1577.28 313.23V342.62M1571.58 313.23H1582.98M1571.58 342.62H1582.98M1614.57 199.88V229.28M1608.87 199.88H1620.27M1608.87 229.28H1620.27M1651.85 195.64V225.03M1646.15 195.64H1657.55M1646.15 225.03H1657.55" stroke="#008080" stroke-width="0.9" fill="none"/>
<path d="M1279.01 247.25V276.64M1273.31 247.25H1284.71M1273.31 276.64H1284.71M1316.29 186.82V216.22M1310.59 186.82H1321.99M1310.59 216.22H1321.99M1353.58 162.32V191.72M1347.88 162.32H1359.28M1347.88 191.72H1359.28M1390.86 206.09V235.49M1385.16 206.09H1396.56M1385.16 235.49H1396.56M1428.15 235.81V265.21M1422.45 235.81H1433.85M1422.45 265.21H1433.85M1465.43 221.44V250.84M1459.73 221.44H1471.13M1459.73 250.84H1471.13M1502.72 221.11V250.51M1497.02 221.11H1508.42M1497.02 250.51H1508.42M1540.00 234.51V263.90M1534.30 234.51H1545.70M1534.30 263.90H1545.70M1577.28 238.75V268.15M1571.58 238.75H1582.98M1571.58 268.15H1582.98M1614.57 270.11V299.51M1608.87 270.11H1620.27M1608.87 299.51H1620.27M1651.85 263.25V292.65M1646.15 263.25H1657.55M1646.15 292.65H1657.55M1689.14 251.49V280.89M1683.44 251.49H1694.84M1683.44 280.89H1694.84M1726.42 255.74V285.14M1720.72 255.74H1732.12M1720.72 285.14H1732.12M1763.71 285.79V315.19M1758.01 285.79H1769.41M1758.01 315.19H1769.41" stroke="#0000a0" stroke-width="0.9" fill="none"/>
<path d="M1241.73 225.36V254.76M1236.03 225.36H1247.43M1236.03 254.76H1247.43M1279.01 227.32V256.72M1273.31 227.32H1284.71M1273.31 256.72H1284.71M1316.29 245.61V275.01M1310.59 245.61H1321.99M1310.59 275.01H1321.99M1353.58 253.12V282.52M1347.88 253.12H1359.28M1347.88 282.52H1359.28M1465.43 260.31V289.71M1459.73 260.31H1471.13M1459.73 289.71H1471.13M1502.72 226.01V255.41M1497.02 226.01H1508.42M1497.02 255.41H1508.42M1577.28 227.97V257.37M1571.58 227.97H1582.98M1571.58 257.37H1582.98M1614.57 176.69V206.09M1608.87 176.69H1620.27M1608.87 206.09H1620.27M1726.42 256.39V285.79M1720.72 256.39H1732.12M1720.72 285.79H1732.12" stroke="#ff8000" stroke-width="0.9" fill="none"/>
<path d="M1353.58 273.38V302.77M1347.88 273.38H1359.28M1347.88 302.77H1359.28M1390.86 257.04V286.44M1385.16 257.04H1396.56M1385.16 286.44H1396.56M1428.15 235.81V265.21M1422.45 235.81H1433.85M1422.45 265.21H1433.85M1465.43 228.30V257.70M1459.73 228.30H1471.13M1459.73 257.70H1471.13M1502.72 254.43V283.83M1497.02 254.43H1508.42M1497.02 283.83H1508.42M1577.28 180.61V210.01M1571.58 180.61H1582.98M1571.58 210.01H1582.98M1614.57 182.24V211.64M1608.87 182.24H1620.27M1608.87 211.64H1620.27M1651.85 203.15V232.55M1646.15 203.15H1657.55M1646.15 232.55H1657.55M1763.71 215.56V244.96M1758.01 215.56H1769.41M1758.01 244.96H1769.41" stroke="#8000ff" stroke-width="0.9" fill="none"/>
<line x1="1241.73" y1="252.47" x2="1726.42" y2="241.37" stroke="#000000" stroke-width="0.9" />
<line x1="1316.29" y1="212.30" x2="1763.71" y2="261.29" stroke="#000080" stroke-width="0.9" />
<line x1="1316.29" y1="181.92" x2="1726.42" y2="324.98" stroke="#800080" stroke-width="0.9" />
<line x1="1316.29" y1="160.36" x2="1763.71" y2="261.94" stroke="#800000" stroke-width="0.9" />
<line x1="1316.29" y1="214.26" x2="1726.42" y2="289.38" stroke="#008000" stroke-width="0.9" />
<line x1="1316.29" y1="214.58" x2="1651.85" y2="271.74" stroke="#008080" stroke-width="0.9" />
<line x1="1279.01" y1="210.34" x2="1763.71" y2="286.77" stroke="#0000a0" stroke-width="0.9" />
<line x1="1241.73" y1="251.98" x2="1726.42" y2="242.67" stroke="#ff8000" stroke-width="0.9" />
<line x1="1353.58" y1="271.55" x2="1763.71" y2="198.71" stroke="#8000ff" stroke-width="0.9" />
<line x1="1185.80" y1="17.55" x2="1185.80" y2="378.95" stroke="#000" stroke-width="2.1" />
<line x1="1894.20" y1="17.55" x2="1894.20" y2="378.95" stroke="#000" stroke-width="2.1" />
<line x1="1184.75" y1="18.60" x2="1895.25" y2="18.60" stroke="#000" stroke-width="2.1" />
<line x1="1184.75" y1="377.90" x2="1895.25" y2="377.90" stroke="#000" stroke-width="2.1" />
<line x1="1185.80" y1="377.90" x2="1185.80" y2="389.50" stroke="#000" stroke-width="1.9" />
<line x1="1185.80" y1="18.60" x2="1185.80" y2="30.20" stroke="#000" stroke-width="1.9" />
<line x1="1223.08" y1="377.90" x2="1223.08" y2="383.60" stroke="#000" stroke-width="1.9" />
<line x1="1223.08" y1="18.60" x2="1223.08" y2="24.30" stroke="#000" stroke-width="1.9" />
<line x1="1260.37" y1="377.90" x2="1260.37" y2="389.50" stroke="#000" stroke-width="1.9" />
<line x1="1260.37" y1="18.60" x2="1260.37" y2="30.20" stroke="#000" stroke-width="1.9" />
<line x1="1297.65" y1="377.90" x2="1297.65" y2="383.60" stroke="#000" stroke-width="1.9" />
<line x1="1297.65" y1="18.60" x2="1297.65" y2="24.30" stroke="#000" stroke-width="1.9" />
<line x1="1334.94" y1="377.90" x2="1334.94" y2="389.50" stroke="#000" stroke-width="1.9" />
<line x1="1334.94" y1="18.60" x2="1334.94" y2="30.20" stroke="#000" stroke-width="1.9" />
<line x1="1372.22" y1="377.90" x2="1372.22" y2="383.60" stroke="#000" stroke-width="1.9" />
<line x1="1372.22" y1="18.60" x2="1372.22" y2="24.30" stroke="#000" stroke-width="1.9" />
<line x1="1409.51" y1="377.90" x2="1409.51" y2="389.50" stroke="#000" stroke-width="1.9" />
<line x1="1409.51" y1="18.60" x2="1409.51" y2="30.20" stroke="#000" stroke-width="1.9" />
<line x1="1446.79" y1="377.90" x2="1446.79" y2="383.60" stroke="#000" stroke-width="1.9" />
<line x1="1446.79" y1="18.60" x2="1446.79" y2="24.30" stroke="#000" stroke-width="1.9" />
<line x1="1484.07" y1="377.90" x2="1484.07" y2="389.50" stroke="#000" stroke-width="1.9" />
<line x1="1484.07" y1="18.60" x2="1484.07" y2="30.20" stroke="#000" stroke-width="1.9" />
<line x1="1521.36" y1="377.90" x2="1521.36" y2="383.60" stroke="#000" stroke-width="1.9" />
<line x1="1521.36" y1="18.60" x2="1521.36" y2="24.30" stroke="#000" stroke-width="1.9" />
<line x1="1558.64" y1="377.90" x2="1558.64" y2="389.50" stroke="#000" stroke-width="1.9" />
<line x1="1558.64" y1="18.60" x2="1558.64" y2="30.20" stroke="#000" stroke-width="1.9" />
<line x1="1595.93" y1="377.90" x2="1595.93" y2="383.60" stroke="#000" stroke-width="1.9" />
<line x1="1595.93" y1="18.60" x2="1595.93" y2="24.30" stroke="#000" stroke-width="1.9" />
<line x1="1633.21" y1="377.90" x2="1633.21" y2="389.50" stroke="#000" stroke-width="1.9" />
<line x1="1633.21" y1="18.60" x2="1633.21" y2="30.20" stroke="#000" stroke-width="1.9" />
<line x1="1670.49" y1="377.90" x2="1670.49" y2="383.60" stroke="#000" stroke-width="1.9" />
<line x1="1670.49" y1="18.60" x2="1670.49" y2="24.30" stroke="#000" stroke-width="1.9" />
<line x1="1707.78" y1="377.90" x2="1707.78" y2="389.50" stroke="#000" stroke-width="1.9" />
<line x1="1707.78" y1="18.60" x2="1707.78" y2="30.20" stroke="#000" stroke-width="1.9" />
<line x1="1745.06" y1="377.90" x2="1745.06" y2="383.60" stroke="#000" stroke-width="1.9" />
<line x1="1745.06" y1="18.60" x2="1745.06" y2="24.30" stroke="#000" stroke-width="1.9" />
<line x1="1782.35" y1="377.90" x2="1782.35" y2="389.50" stroke="#000" stroke-width="1.9" />
<line x1="1782.35" y1="18.60" x2="1782.35" y2="30.20" stroke="#000" stroke-width="1.9" />
<line x1="1819.63" y1="377.90" x2="1819.63" y2="383.60" stroke="#000" stroke-width="1.9" />
<line x1="1819.63" y1="18.60" x2="1819.63" y2="24.30" stroke="#000" stroke-width="1.9" />
<line x1="1856.92" y1="377.90" x2="1856.92" y2="389.50" stroke="#000" stroke-width="1.9" />
<line x1="1856.92" y1="18.60" x2="1856.92" y2="30.20" stroke="#000" stroke-width="1.9" />
<line x1="1894.20" y1="377.90" x2="1894.20" y2="383.60" stroke="#000" stroke-width="1.9" />
<line x1="1894.20" y1="18.60" x2="1894.20" y2="24.30" stroke="#000" stroke-width="1.9" />
<line x1="1185.80" y1="377.90" x2="1174.20" y2="377.90" stroke="#000" stroke-width="1.9" />
<line x1="1894.20" y1="377.90" x2="1882.60" y2="377.90" stroke="#000" stroke-width="1.9" />
<line x1="1185.80" y1="345.24" x2="1180.10" y2="345.24" stroke="#000" stroke-width="1.9" />
<line x1="1894.20" y1="345.24" x2="1888.50" y2="345.24" stroke="#000" stroke-width="1.9" />
<line x1="1185.80" y1="312.57" x2="1174.20" y2="312.57" stroke="#000" stroke-width="1.9" />
<line x1="1894.20" y1="312.57" x2="1882.60" y2="312.57" stroke="#000" stroke-width="1.9" />
<line x1="1185.80" y1="279.91" x2="1180.10" y2="279.91" stroke="#000" stroke-width="1.9" />
<line x1="1894.20" y1="279.91" x2="1888.50" y2="279.91" stroke="#000" stroke-width="1.9" />
<line x1="1185.80" y1="247.25" x2="1174.20" y2="247.25" stroke="#000" stroke-width="1.9" />
<line x1="1894.20" y1="247.25" x2="1882.60" y2="247.25" stroke="#000" stroke-width="1.9" />
<line x1="1185.80" y1="214.58" x2="1180.10" y2="214.58" stroke="#000" stroke-width="1.9" />
<line x1="1894.20" y1="214.58" x2="1888.50" y2="214.58" stroke="#000" stroke-width="1.9" />
<line x1="1185.80" y1="181.92" x2="1174.20" y2="181.92" stroke="#000" stroke-width="1.9" />
<line x1="1894.20" y1="181.92" x2="1882.60" y2="181.92" stroke="#000" stroke-width="1.9" />
<line x1="1185.80" y1="149.25" x2="1180.10" y2="149.25" stroke="#000" stroke-width="1.9" />
<line x1="1894.20" y1="149.25" x2="1888.50" y2="149.25" stroke="#000" stroke-width="1.9" />
<line x1="1185.80" y1="116.59" x2="1174.20" y2="116.59" stroke="#000" stroke-width="1.9" />
<line x1="1894.20" y1="116.59" x2="1882.60" y2="116.59" stroke="#000" stroke-width="1.9" />
<line x1="1185.80" y1="83.93" x2="1180.10" y2="83.93" stroke="#000" stroke-width="1.9" />
<line x1="1894.20" y1="83.93" x2="1888.50" y2="83.93" stroke="#000" stroke-width="1.9" />
<line x1="1185.80" y1="51.26" x2="1174.20" y2="51.26" stroke="#000" stroke-width="1.9" />
<line x1="1894.20" y1="51.26" x2="1882.60" y2="51.26" stroke="#000" stroke-width="1.9" />
<line x1="1185.80" y1="18.60" x2="1180.10" y2="18.60" stroke="#000" stroke-width="1.9" />
<line x1="1894.20" y1="18.60" x2="1888.50" y2="18.60" stroke="#000" stroke-width="1.9" />
<text transform="translate(1185.80 420.00) scale(0.9850 1)" font-size="27.60" text-anchor="middle" >600</text>
<text transform="translate(1260.37 420.00) scale(0.9850 1)" font-size="27.60" text-anchor="middle" >800</text>
<text transform="translate(1334.94 420.00) scale(0.9850 1)" font-size="27.60" text-anchor="middle" >1000</text>
<text transform="translate(1409.51 420.00) scale(0.9850 1)" font-size="27.60" text-anchor="middle" >1200</text>
<text transform="translate(1484.07 420.00) scale(0.9850 1)" font-size="27.60" text-anchor="middle" >1400</text>
<text transform="translate(1558.64 420.00) scale(0.9850 1)" font-size="27.60" text-anchor="middle" >1600</text>
<text transform="translate(1633.21 420.00) scale(0.9850 1)" font-size="27.60" text-anchor="middle" >1800</text>
<text transform="translate(1707.78 420.00) scale(0.9850 1)" font-size="27.60" text-anchor="middle" >2000</text>
<text transform="translate(1782.35 420.00) scale(0.9850 1)" font-size="27.60" text-anchor="middle" >2200</text>
<text transform="translate(1856.92 420.00) scale(0.9850 1)" font-size="27.60" text-anchor="middle" >2400</text>
<text transform="translate(1163.60 387.40) scale(0.9850 1)" font-size="27.60" text-anchor="end" >0</text>
<text transform="translate(1163.60 322.07) scale(0.9850 1)" font-size="27.60" text-anchor="end" >200</text>
<text transform="translate(1163.60 256.75) scale(0.9850 1)" font-size="27.60" text-anchor="end" >400</text>
<text transform="translate(1163.60 191.42) scale(0.9850 1)" font-size="27.60" text-anchor="end" >600</text>
<text transform="translate(1163.60 126.09) scale(0.9850 1)" font-size="27.60" text-anchor="end" >800</text>
<text transform="translate(1163.60 60.76) scale(0.9850 1)" font-size="27.60" text-anchor="end" >1000</text>
<text transform="translate(1539.50 460.10) scale(0.9850 1)" font-size="27.60" text-anchor="middle" textLength="340.91" lengthAdjust="spacingAndGlyphs" >x coordinate bin centre (nm)</text>
<text transform="translate(1081.90 198.60) rotate(-90) scale(0.9850 1)" font-size="27.60" text-anchor="middle" textLength="175.94" lengthAdjust="spacingAndGlyphs" >Diameter (nm)</text>
<text transform="translate(1057.30 29.20) scale(0.9850 1)" font-size="40.50" text-anchor="start" font-weight="bold" >b</text>
<rect x="1392.7" y="17.3" width="501.5" height="104.0" fill="#fff" stroke="#111" stroke-width="0.9"/>
<line x1="1894.20" y1="17.55" x2="1894.20" y2="378.95" stroke="#000" stroke-width="2.1" />
<rect x="1419.70" y="29.70" width="12.80" height="12.80" fill="#000000"/>
<text transform="translate(1446.20 43.50) scale(0.9850 1)" font-size="23.40" text-anchor="start" >0.0 mT</text>
<circle cx="1426.10" cy="69.30" r="7.20" fill="#000080"/>
<text transform="translate(1446.20 77.10) scale(0.9850 1)" font-size="23.40" text-anchor="start" >−0.5 mT</text>
<polygon points="1426.10,93.09 1417.60,107.81 1434.60,107.81" fill="#800080"/>
<text transform="translate(1446.20 108.10) scale(0.9850 1)" font-size="23.40" text-anchor="start" >−1.0 mT</text>
<polygon points="1591.50,45.91 1583.00,31.19 1600.00,31.19" fill="#800000"/>
<text transform="translate(1612.50 43.50) scale(0.9850 1)" font-size="23.40" text-anchor="start" >−1.5 mT</text>
<polygon points="1592.90,60.60 1601.60,69.30 1592.90,78.00 1584.20,69.30" fill="#008000"/>
<text transform="translate(1612.50 77.10) scale(0.9850 1)" font-size="23.40" text-anchor="start" >−2.0 mT</text>
<polygon points="1583.29,102.90 1598.01,94.40 1598.01,111.40" fill="#008080"/>
<text transform="translate(1612.50 108.10) scale(0.9850 1)" font-size="23.40" text-anchor="start" >−2.5 mT</text>
<polygon points="1767.81,36.10 1753.09,27.60 1753.09,44.60" fill="#0000a0"/>
<text transform="translate(1778.80 43.50) scale(0.9850 1)" font-size="23.40" text-anchor="start" >−3.0 mT</text>
<polygon points="1759.80,61.70 1766.38,65.50 1766.38,73.10 1759.80,76.90 1753.22,73.10 1753.22,65.50" fill="#ff8000"/>
<text transform="translate(1778.80 77.10) scale(0.9850 1)" font-size="23.40" text-anchor="start" >−3.5 mT</text>
<polygon points="1759.60,94.70 1767.40,100.37 1764.42,109.53 1754.78,109.53 1751.80,100.37" fill="#8000ff"/>
<text transform="translate(1778.80 108.10) scale(0.9850 1)" font-size="23.40" text-anchor="start" >−4.0 mT</text>
</g>
<g id="panel-c">
<line x1="1185.80" y1="600.51" x2="1894.20" y2="600.51" stroke="#222" stroke-width="1.0" />
<path d="M1256.64 526.96V565.47M1250.94 526.96H1262.34M1250.94 565.47H1262.34" stroke="#444" stroke-width="1" fill="none"/>
<rect x="1250.24" y="539.81" width="12.8" height="12.8" fill="#000"/>
<path d="M1327.48 576.97V611.74M1321.78 576.97H1333.18M1321.78 611.74H1333.18" stroke="#444" stroke-width="1" fill="none"/>
<rect x="1321.08" y="587.95" width="12.8" height="12.8" fill="#000"/>
<path d="M1398.32 636.08V661.22M1392.62 636.08H1404.02M1392.62 661.22H1404.02" stroke="#444" stroke-width="1" fill="none"/>
<rect x="1391.92" y="642.25" width="12.8" height="12.8" fill="#000"/>
<path d="M1469.16 598.63V706.68M1463.46 598.63H1474.86M1463.46 706.68H1474.86" stroke="#444" stroke-width="1" fill="none"/>
<rect x="1462.76" y="646.26" width="12.8" height="12.8" fill="#000"/>
<path d="M1540.00 637.41V674.86M1534.30 637.41H1545.70M1534.30 674.86H1545.70" stroke="#444" stroke-width="1" fill="none"/>
<rect x="1533.60" y="649.73" width="12.8" height="12.8" fill="#000"/>
<path d="M1610.84 647.84V693.31M1605.14 647.84H1616.54M1605.14 693.31H1616.54" stroke="#444" stroke-width="1" fill="none"/>
<rect x="1604.44" y="664.18" width="12.8" height="12.8" fill="#000"/>
<path d="M1681.68 693.31V721.66M1675.98 693.31H1687.38M1675.98 721.66H1687.38" stroke="#444" stroke-width="1" fill="none"/>
<rect x="1675.28" y="701.08" width="12.8" height="12.8" fill="#000"/>
<path d="M1752.52 614.68V653.19M1746.82 614.68H1758.22M1746.82 653.19H1758.22" stroke="#444" stroke-width="1" fill="none"/>
<rect x="1746.12" y="627.54" width="12.8" height="12.8" fill="#000"/>
<path d="M1823.36 578.31V606.66M1817.66 578.31H1829.06M1817.66 606.66H1829.06" stroke="#444" stroke-width="1" fill="none"/>
<rect x="1816.96" y="586.08" width="12.8" height="12.8" fill="#000"/>
<line x1="1185.80" y1="505.85" x2="1185.80" y2="748.65" stroke="#000" stroke-width="2.1" />
<line x1="1894.20" y1="505.85" x2="1894.20" y2="748.65" stroke="#000" stroke-width="2.1" />
<line x1="1184.75" y1="506.90" x2="1895.25" y2="506.90" stroke="#000" stroke-width="2.1" />
<line x1="1184.75" y1="747.60" x2="1895.25" y2="747.60" stroke="#000" stroke-width="2.1" />
<line x1="1185.80" y1="747.60" x2="1185.80" y2="753.30" stroke="#000" stroke-width="1.9" />
<line x1="1185.80" y1="506.90" x2="1185.80" y2="512.60" stroke="#000" stroke-width="1.9" />
<line x1="1256.64" y1="747.60" x2="1256.64" y2="759.20" stroke="#000" stroke-width="1.9" />
<line x1="1256.64" y1="506.90" x2="1256.64" y2="518.50" stroke="#000" stroke-width="1.9" />
<line x1="1327.48" y1="747.60" x2="1327.48" y2="753.30" stroke="#000" stroke-width="1.9" />
<line x1="1327.48" y1="506.90" x2="1327.48" y2="512.60" stroke="#000" stroke-width="1.9" />
<line x1="1398.32" y1="747.60" x2="1398.32" y2="759.20" stroke="#000" stroke-width="1.9" />
<line x1="1398.32" y1="506.90" x2="1398.32" y2="518.50" stroke="#000" stroke-width="1.9" />
<line x1="1469.16" y1="747.60" x2="1469.16" y2="753.30" stroke="#000" stroke-width="1.9" />
<line x1="1469.16" y1="506.90" x2="1469.16" y2="512.60" stroke="#000" stroke-width="1.9" />
<line x1="1540.00" y1="747.60" x2="1540.00" y2="759.20" stroke="#000" stroke-width="1.9" />
<line x1="1540.00" y1="506.90" x2="1540.00" y2="518.50" stroke="#000" stroke-width="1.9" />
<line x1="1610.84" y1="747.60" x2="1610.84" y2="753.30" stroke="#000" stroke-width="1.9" />
<line x1="1610.84" y1="506.90" x2="1610.84" y2="512.60" stroke="#000" stroke-width="1.9" />
<line x1="1681.68" y1="747.60" x2="1681.68" y2="759.20" stroke="#000" stroke-width="1.9" />
<line x1="1681.68" y1="506.90" x2="1681.68" y2="518.50" stroke="#000" stroke-width="1.9" />
<line x1="1752.52" y1="747.60" x2="1752.52" y2="753.30" stroke="#000" stroke-width="1.9" />
<line x1="1752.52" y1="506.90" x2="1752.52" y2="512.60" stroke="#000" stroke-width="1.9" />
<line x1="1823.36" y1="747.60" x2="1823.36" y2="759.20" stroke="#000" stroke-width="1.9" />
<line x1="1823.36" y1="506.90" x2="1823.36" y2="518.50" stroke="#000" stroke-width="1.9" />
<line x1="1894.20" y1="747.60" x2="1894.20" y2="753.30" stroke="#000" stroke-width="1.9" />
<line x1="1894.20" y1="506.90" x2="1894.20" y2="512.60" stroke="#000" stroke-width="1.9" />
<line x1="1185.80" y1="747.60" x2="1180.10" y2="747.60" stroke="#000" stroke-width="1.9" />
<line x1="1894.20" y1="747.60" x2="1888.50" y2="747.60" stroke="#000" stroke-width="1.9" />
<line x1="1185.80" y1="734.23" x2="1174.20" y2="734.23" stroke="#000" stroke-width="1.9" />
<line x1="1894.20" y1="734.23" x2="1882.60" y2="734.23" stroke="#000" stroke-width="1.9" />
<line x1="1185.80" y1="720.86" x2="1180.10" y2="720.86" stroke="#000" stroke-width="1.9" />
<line x1="1894.20" y1="720.86" x2="1888.50" y2="720.86" stroke="#000" stroke-width="1.9" />
<line x1="1185.80" y1="707.48" x2="1174.20" y2="707.48" stroke="#000" stroke-width="1.9" />
<line x1="1894.20" y1="707.48" x2="1882.60" y2="707.48" stroke="#000" stroke-width="1.9" />
<line x1="1185.80" y1="694.11" x2="1180.10" y2="694.11" stroke="#000" stroke-width="1.9" />
<line x1="1894.20" y1="694.11" x2="1888.50" y2="694.11" stroke="#000" stroke-width="1.9" />
<line x1="1185.80" y1="680.74" x2="1174.20" y2="680.74" stroke="#000" stroke-width="1.9" />
<line x1="1894.20" y1="680.74" x2="1882.60" y2="680.74" stroke="#000" stroke-width="1.9" />
<line x1="1185.80" y1="667.37" x2="1180.10" y2="667.37" stroke="#000" stroke-width="1.9" />
<line x1="1894.20" y1="667.37" x2="1888.50" y2="667.37" stroke="#000" stroke-width="1.9" />
<line x1="1185.80" y1="653.99" x2="1174.20" y2="653.99" stroke="#000" stroke-width="1.9" />
<line x1="1894.20" y1="653.99" x2="1882.60" y2="653.99" stroke="#000" stroke-width="1.9" />
<line x1="1185.80" y1="640.62" x2="1180.10" y2="640.62" stroke="#000" stroke-width="1.9" />
<line x1="1894.20" y1="640.62" x2="1888.50" y2="640.62" stroke="#000" stroke-width="1.9" />
<line x1="1185.80" y1="627.25" x2="1174.20" y2="627.25" stroke="#000" stroke-width="1.9" />
<line x1="1894.20" y1="627.25" x2="1882.60" y2="627.25" stroke="#000" stroke-width="1.9" />
<line x1="1185.80" y1="613.88" x2="1180.10" y2="613.88" stroke="#000" stroke-width="1.9" />
<line x1="1894.20" y1="613.88" x2="1888.50" y2="613.88" stroke="#000" stroke-width="1.9" />
<line x1="1185.80" y1="600.51" x2="1174.20" y2="600.51" stroke="#000" stroke-width="1.9" />
<line x1="1894.20" y1="600.51" x2="1882.60" y2="600.51" stroke="#000" stroke-width="1.9" />
<line x1="1185.80" y1="587.13" x2="1180.10" y2="587.13" stroke="#000" stroke-width="1.9" />
<line x1="1894.20" y1="587.13" x2="1888.50" y2="587.13" stroke="#000" stroke-width="1.9" />
<line x1="1185.80" y1="573.76" x2="1174.20" y2="573.76" stroke="#000" stroke-width="1.9" />
<line x1="1894.20" y1="573.76" x2="1882.60" y2="573.76" stroke="#000" stroke-width="1.9" />
<line x1="1185.80" y1="560.39" x2="1180.10" y2="560.39" stroke="#000" stroke-width="1.9" />
<line x1="1894.20" y1="560.39" x2="1888.50" y2="560.39" stroke="#000" stroke-width="1.9" />
<line x1="1185.80" y1="547.02" x2="1174.20" y2="547.02" stroke="#000" stroke-width="1.9" />
<line x1="1894.20" y1="547.02" x2="1882.60" y2="547.02" stroke="#000" stroke-width="1.9" />
<line x1="1185.80" y1="533.64" x2="1180.10" y2="533.64" stroke="#000" stroke-width="1.9" />
<line x1="1894.20" y1="533.64" x2="1888.50" y2="533.64" stroke="#000" stroke-width="1.9" />
<line x1="1185.80" y1="520.27" x2="1174.20" y2="520.27" stroke="#000" stroke-width="1.9" />
<line x1="1894.20" y1="520.27" x2="1882.60" y2="520.27" stroke="#000" stroke-width="1.9" />
<line x1="1185.80" y1="506.90" x2="1180.10" y2="506.90" stroke="#000" stroke-width="1.9" />
<line x1="1894.20" y1="506.90" x2="1888.50" y2="506.90" stroke="#000" stroke-width="1.9" />
<text transform="translate(1255.94 787.50) scale(0.9850 1)" font-size="23.20" text-anchor="middle" >−4</text>
<text transform="translate(1397.62 787.50) scale(0.9850 1)" font-size="23.20" text-anchor="middle" >−3</text>
<text transform="translate(1539.30 787.50) scale(0.9850 1)" font-size="23.20" text-anchor="middle" >−2</text>
<text transform="translate(1680.98 787.50) scale(0.9850 1)" font-size="23.20" text-anchor="middle" >−1</text>
<text transform="translate(1822.66 787.50) scale(0.9850 1)" font-size="23.20" text-anchor="middle" >0</text>
<text transform="translate(1163.50 741.93) scale(0.9850 1)" font-size="23.20" text-anchor="end" >−0.5</text>
<text transform="translate(1163.50 715.18) scale(0.9850 1)" font-size="23.20" text-anchor="end" >−0.4</text>
<text transform="translate(1163.50 688.44) scale(0.9850 1)" font-size="23.20" text-anchor="end" >−0.3</text>
<text transform="translate(1163.50 661.69) scale(0.9850 1)" font-size="23.20" text-anchor="end" >−0.2</text>
<text transform="translate(1163.50 634.95) scale(0.9850 1)" font-size="23.20" text-anchor="end" >−0.1</text>
<text transform="translate(1163.50 608.21) scale(0.9850 1)" font-size="23.20" text-anchor="end" >0.0</text>
<text transform="translate(1163.50 581.46) scale(0.9850 1)" font-size="23.20" text-anchor="end" >0.1</text>
<text transform="translate(1163.50 554.72) scale(0.9850 1)" font-size="23.20" text-anchor="end" >0.2</text>
<text transform="translate(1163.50 527.97) scale(0.9850 1)" font-size="23.20" text-anchor="end" >0.3</text>
<text transform="translate(1093.40 627.00) rotate(-90) scale(0.9850 1)" font-size="23.20" text-anchor="middle" textLength="61.22" lengthAdjust="spacingAndGlyphs" >Slope</text>
<text transform="translate(1488.2 822.6) scale(0.952 1)" font-size="24.4" text-anchor="start"><tspan textLength="14.1" lengthAdjust="spacingAndGlyphs">μ</tspan><tspan font-size="17.2" dy="8.1">0</tspan><tspan dy="-8.1">H</tspan><tspan font-size="17.2" dy="8.1">z</tspan><tspan dy="-8.1"> (mT)</tspan></text>
<text transform="translate(1073.40 515.00) scale(0.9850 1)" font-size="40.50" text-anchor="start" font-weight="bold" >c</text>
</g>
</svg>
</body>
</html>
